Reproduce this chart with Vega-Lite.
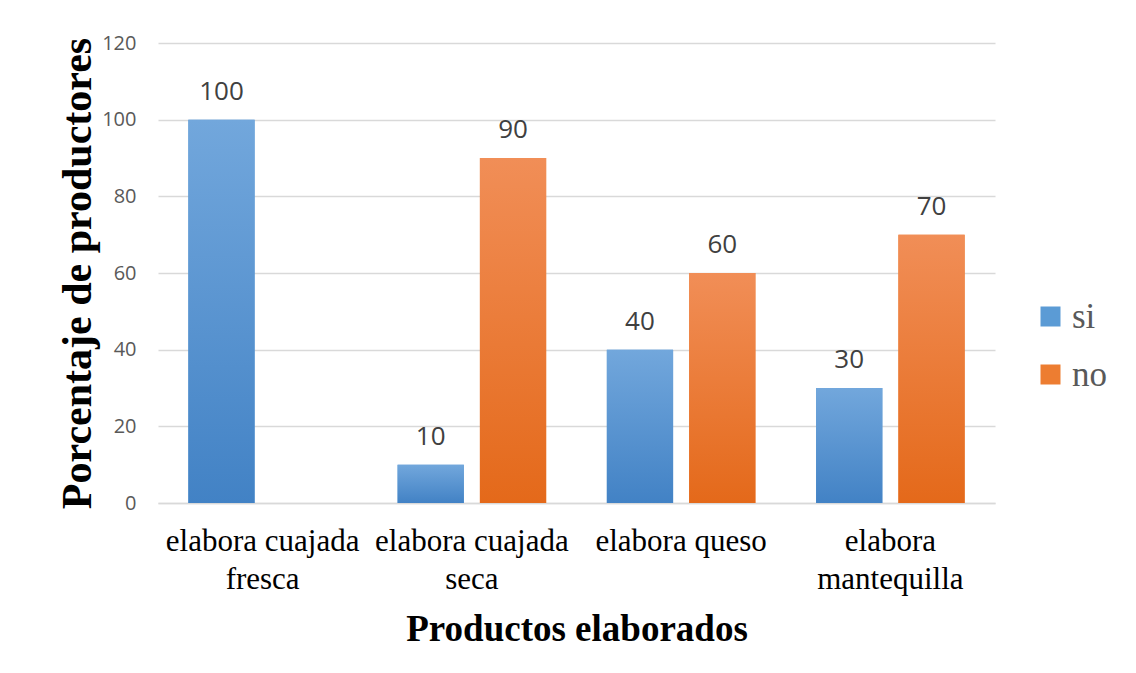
{
  "$schema": "https://vega.github.io/schema/vega-lite/v6.json",
  "width": 837,
  "height": 460,
  "autosize": "none",
  "padding": {"left": 158, "top": 43, "right": 141, "bottom": 170},
  "background": "white",
  "config": {"view": {"stroke": null}},
  "data": {
    "values": [
      {"producto": "elabora cuajada fresca", "serie": "si", "valor": 100},
      {"producto": "elabora cuajada fresca", "serie": "no", "valor": 0},
      {"producto": "elabora cuajada seca", "serie": "si", "valor": 10},
      {"producto": "elabora cuajada seca", "serie": "no", "valor": 90},
      {"producto": "elabora queso", "serie": "si", "valor": 40},
      {"producto": "elabora queso", "serie": "no", "valor": 60},
      {"producto": "elabora mantequilla", "serie": "si", "valor": 30},
      {"producto": "elabora mantequilla", "serie": "no", "valor": 70}
    ]
  },
  "encoding": {
    "x": {
      "field": "producto",
      "type": "nominal",
      "sort": null,
      "scale": {"paddingInner": 0.29, "paddingOuter": 0.145},
      "axis": {
        "title": "Productos elaborados",
        "titleFont": "Liberation Serif",
        "titleFontSize": 37,
        "titleFontWeight": "bold",
        "titleColor": "#000000",
        "titlePadding": 17,
        "labelFont": "Liberation Serif",
        "labelFontSize": 31,
        "labelColor": "#000000",
        "labelAngle": 0,
        "labelPadding": 23,
        "labelLineHeight": 38,
        "labelLimit": 0,
        "labelExpr": "datum.value == 'elabora mantequilla' ? ['elabora', 'mantequilla'] : datum.value == 'elabora queso' ? 'elabora queso' : ['elabora cuajada', slice(datum.value, 16)]",
        "ticks": false,
        "domain": true,
        "domainColor": "#D9D9D9",
        "domainWidth": 1.5,
        "grid": false
      }
    },
    "xOffset": {
      "field": "serie",
      "sort": ["si", "no"],
      "scale": {"domain": ["si", "no"], "paddingInner": 0.195, "paddingOuter": 0}
    },
    "y": {
      "field": "valor",
      "type": "quantitative",
      "scale": {"domain": [0, 120]},
      "axis": {
        "title": "Porcentaje de productores",
        "titleFont": "Liberation Serif",
        "titleFontSize": 42,
        "titleFontWeight": "bold",
        "titleColor": "#000000",
        "titlePadding": 2,
        "labelFont": "Open Sans",
        "labelFontSize": 20,
        "labelColor": "#595959",
        "labelPadding": 22,
        "values": [0, 20, 40, 60, 80, 100, 120],
        "ticks": false,
        "domain": false,
        "grid": true,
        "gridColor": "#D9D9D9",
        "gridWidth": 1.5
      }
    }
  },
  "layer": [
    {
      "mark": {"type": "bar"},
      "encoding": {
        "color": {
          "field": "serie",
          "type": "nominal",
          "sort": ["si", "no"],
          "scale": {"domain": ["si", "no"], "range": ["#5B9BD5", "#ED7D31"]},
          "legend": {
            "title": null,
            "orient": "none",
            "legendX": 875,
            "legendY": 256,
            "symbolType": "square",
            "symbolSize": 400,
            "symbolStrokeWidth": 0,
            "symbolOpacity": 1,
            "labelFont": "Liberation Serif",
            "labelFontSize": 35,
            "labelColor": "#595959",
            "labelOffset": 4,
            "rowPadding": 22
          }
        }
      }
    },
    {
      "transform": [{"filter": "datum.serie == 'si'"}],
      "mark": {"type": "bar", "color": {"gradient": "linear", "x1": 0, "y1": 0, "x2": 0, "y2": 1, "stops": [{"offset": 0, "color": "#72A7DC"}, {"offset": 1, "color": "#4282C5"}]}},
      "encoding": {}
    },
    {
      "transform": [{"filter": "datum.serie == 'no'"}],
      "mark": {"type": "bar", "color": {"gradient": "linear", "x1": 0, "y1": 0, "x2": 0, "y2": 1, "stops": [{"offset": 0, "color": "#F18E57"}, {"offset": 1, "color": "#E4691A"}]}},
      "encoding": {}
    },
    {
      "transform": [{"filter": "datum.valor > 0"}],
      "mark": {"type": "text", "baseline": "alphabetic", "dy": -20, "font": "Open Sans", "fontSize": 26, "color": "#404040"},
      "encoding": {"text": {"field": "valor", "type": "quantitative"}}
    }
  ]
}
